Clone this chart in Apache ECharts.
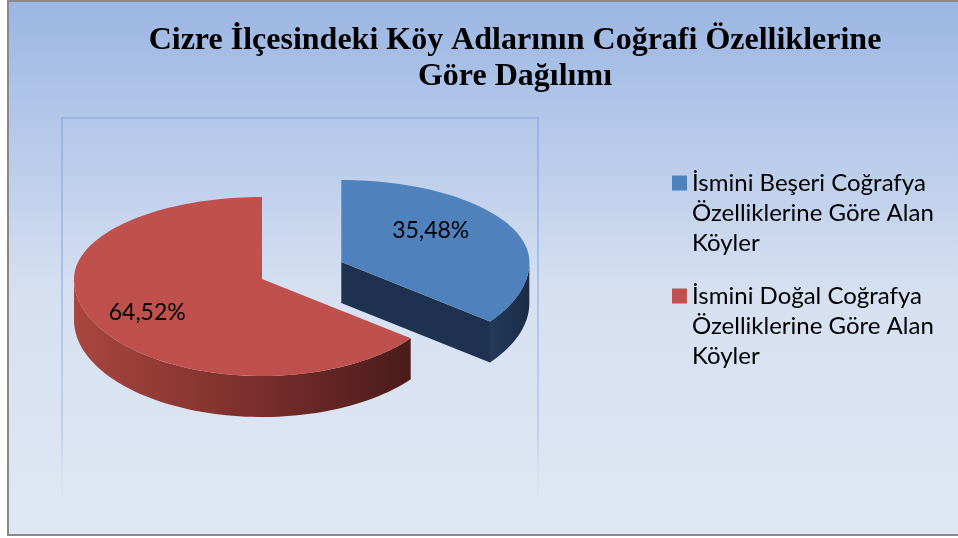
<!DOCTYPE html>
<html>
<head>
<meta charset="utf-8">
<script src="https://cdn.jsdelivr.net/npm/echarts@6/dist/echarts.min.js"></script>
<style>
  html, body { margin: 0; padding: 0; background: #fff; }
  #chart { width: 958px; height: 538px; }
</style>
</head>
<body>
<div id="chart"></div>
<script>
// data
const categories = [
  'İsmini Beşeri Coğrafya Özelliklerine Göre Alan Köyler',
  'İsmini Doğal Coğrafya Özelliklerine Göre Alan Köyler'
]
const values = [35.48, 64.52]

const titleText = 'Cizre İlçesindeki Köy Adlarının Coğrafi Özelliklerine\nGöre Dağılımı'

// layout of the tilted pie (back half a bit flatter than the front half)
const pie = { cx: 262, cy: 279, rx: 188, ryBack: 82, ryFront: 97, depth: 41 }
const topColors = ['#4f81bd', '#c0504d']
const explode = [0.47, 0]
const labelRadius = [0.53, 0.68]
const labelShift = [-12, 9]

const total = values.reduce((s, v) => s + v, 0)
const rad = d => d * Math.PI / 180

function pt(cx, cy, deg, dy) {
  const s = Math.sin(rad(deg))
  const ry = s > 0 ? pie.ryBack : pie.ryFront
  return [cx + pie.rx * Math.cos(rad(deg)), cy - ry * s + dy]
}

function arc(cx, cy, from, to, dy) {
  const pts = []
  const n = Math.max(2, Math.ceil(Math.abs(to - from) / 2))
  for (let i = 0; i <= n; i++) pts.push(pt(cx, cy, from + (to - from) * i / n, dy))
  return pts
}

function sideStyle(idx) {
  if (idx === 1) {
    return new echarts.graphic.LinearGradient(0, 0, 1, 0, [
      { offset: 0, color: '#a8463f' },
      { offset: 0.5, color: '#7e302d' },
      { offset: 1, color: '#4a1b1b' }
    ])
  }
  return new echarts.graphic.LinearGradient(0, 0, 1, 0, [
    { offset: 0, color: '#22395a' },
    { offset: 1, color: '#1a2c47' }
  ])
}

function renderSlice(idx) {
  return function (params, api) {
    const v = api.value(0)
    let before = 0
    for (let i = 0; i < idx; i++) before += values[i]
    const a = 90 - 360 * before / total
    const b = a - 360 * v / total
    const m = (a + b) / 2
    const ox = pie.cx + explode[idx] * pie.rx * Math.cos(rad(m))
    const oy = pie.cy - explode[idx] * pie.ryBack * Math.sin(rad(m))
    const d = pie.depth
    const children = []

    // radial cut faces that look towards the viewer
    const face = ang => {
      const p = pt(ox, oy, ang, 0)
      children.push({
        type: 'polygon',
        shape: { points: [[ox, oy], p, [p[0], p[1] + d], [ox, oy + d]] },
        style: { fill: idx === 1 ? '#5a2220' : '#1e314e' }
      })
    }
    if (Math.cos(rad(b)) > 0.01) face(b)
    if (Math.cos(rad(a)) < -0.01) face(a)

    // outer wall on the front half
    for (let k = -2; k <= 2; k++) {
      const lo = Math.max(b, 180 + 360 * k)
      const hi = Math.min(a, 360 + 360 * k)
      if (hi > lo) {
        children.push({
          type: 'polygon',
          shape: { points: arc(ox, oy, hi, lo, 0).concat(arc(ox, oy, lo, hi, d)) },
          style: { fill: sideStyle(idx) }
        })
      }
    }

    // top face
    children.push({
      type: 'polygon',
      shape: { points: [[ox, oy]].concat(arc(ox, oy, a, b, 0)) },
      style: { fill: topColors[idx] }
    })

    // percent label
    const lr = labelRadius[idx]
    children.push({
      type: 'text',
      x: ox + lr * pie.rx * Math.cos(rad(m)),
      y: oy - lr * pie.ryBack * Math.sin(rad(m)) + labelShift[idx],
      style: {
        text: (v / total * 100).toFixed(2).replace('.', ',') + '%',
        fill: '#000',
        font: '23px Lato',
        align: 'center',
        verticalAlign: 'middle'
      }
    })
    return { type: 'group', children }
  }
}

const chart = echarts.init(document.getElementById('chart'))
chart.setOption({
  animation: false,
  graphic: [
    {
      type: 'rect',
      z: -10,
      shape: { x: 8, y: 1, width: 990, height: 534 },
      style: {
        stroke: '#8a8a8a',
        lineWidth: 2,
        fill: new echarts.graphic.LinearGradient(0, 0, 0, 1, [
          { offset: 0, color: '#9bb6e3' },
          { offset: 0.55, color: '#d6e0f1' },
          { offset: 1, color: '#e0e7f4' }
        ])
      }
    },
    {
      type: 'rect',
      z: -9,
      shape: { x: 62, y: 118, width: 476, height: 390 },
      style: {
        fill: 'transparent',
        lineWidth: 2,
        stroke: new echarts.graphic.LinearGradient(0, 0, 0, 1, [
          { offset: 0, color: 'rgba(150,180,230,1)' },
          { offset: 0.8, color: 'rgba(170,195,235,0.6)' },
          { offset: 1, color: 'rgba(200,215,240,0)' }
        ])
      }
    }
  ],
  title: {
    text: titleText,
    left: 510,
    top: 18,
    textAlign: 'center',
    textStyle: {
      fontFamily: 'Liberation Serif',
      fontWeight: 'bold',
      fontSize: 32,
      lineHeight: 36,
      color: '#000'
    }
  },
  legend: {
    data: categories,
    orient: 'vertical',
    left: 672,
    top: 108,
    padding: 0,
    icon: 'rect',
    itemWidth: 15,
    itemHeight: 15,
    itemGap: -37,
    // two empty lines on top keep the marker level with the first text line
    formatter: name => {
      const w = name.split(' ')
      return ['', '', w.slice(0, 3).join(' '), w.slice(3, 6).join(' '), w.slice(6).join(' ')].join('\n')
    },
    textStyle: {
      fontFamily: 'Lato',
      fontSize: 24,
      lineHeight: 30,
      color: '#000'
    }
  },
  series: categories.map((name, i) => ({
    name,
    type: 'custom',
    coordinateSystem: 'none',
    itemStyle: { color: topColors[i] },
    renderItem: renderSlice(i),
    data: [[values[i]]]
  }))
})
</script>
</body>
</html>
